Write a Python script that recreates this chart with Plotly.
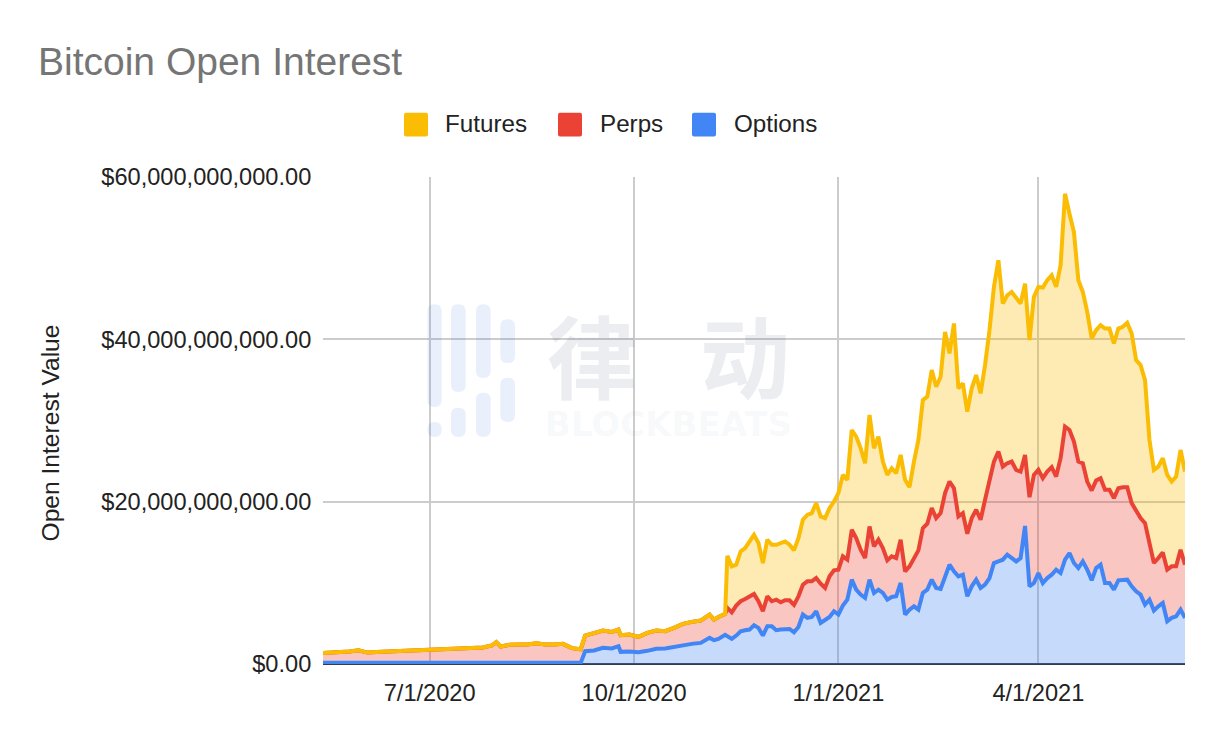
import pandas as pd
import numpy as np
import plotly.graph_objects as go

# stack tops, in billions of dollars
early_dates = ["2020-05-14", "2020-05-18", "2020-05-22", "2020-05-26", "2020-05-30", "2020-06-03", "2020-06-07",
               "2020-06-11", "2020-06-15", "2020-06-19", "2020-06-23", "2020-06-27", "2020-07-01", "2020-07-05",
               "2020-07-09", "2020-07-13", "2020-07-17", "2020-07-21", "2020-07-25", "2020-07-29", "2020-07-31",
               "2020-08-02", "2020-08-06", "2020-08-10", "2020-08-14", "2020-08-18", "2020-08-22", "2020-08-26",
               "2020-08-30", "2020-09-03", "2020-09-07", "2020-09-09", "2020-09-13", "2020-09-17", "2020-09-21",
               "2020-09-24", "2020-09-25", "2020-09-29", "2020-10-03", "2020-10-07", "2020-10-11", "2020-10-15",
               "2020-10-19", "2020-10-23", "2020-10-27", "2020-10-31", "2020-11-04", "2020-11-06", "2020-11-08",
               "2020-11-11"]
late_dates = [d.strftime("%Y-%m-%d") for d in pd.date_range("2020-11-12", periods=104, freq="2D")]
dates = early_dates + late_dates

futures_top = [1.37, 1.41, 1.41, 1.54, 1.70, 1.41, 1.49, 1.54, 1.58, 1.62, 1.74, 1.74, 1.74, 1.82, 1.82, 1.95, 1.99,
               2.07, 2.03, 2.28, 2.70, 2.15, 2.36, 2.40, 2.40, 2.56, 2.40, 2.40, 2.48, 1.95, 1.82, 3.50, 3.75, 4.12,
               3.96, 4.24, 3.55, 3.63, 3.34, 3.83, 4.12, 4.04, 4.45, 4.94, 5.19, 5.35, 6.09, 5.47, 5.80, 6.17,
               13.34, 12.03, 12.23, 13.87, 14.28, 15.10, 15.92, 14.90, 12.44, 15.31, 14.69, 14.69, 14.90, 15.10,
               14.69, 14.00, 15.51, 17.77, 18.38, 18.59, 19.82, 18.18, 17.97, 19.20, 20.02, 21.05,
               23.30, 22.69, 28.83, 28.01, 26.58, 24.73, 30.68, 26.58, 28.01, 24.94, 23.30, 24.12, 23.50, 25.76,
               22.69, 21.78, 24.94, 27.60, 32.52, 32.93, 36.21, 34.16, 35.39, 40.92, 38.26, 41.95, 33.96, 34.57,
               31.09, 33.96, 35.60, 33.34, 36.83, 41.13, 46.46, 49.74, 44.40, 45.43, 45.84, 45.20, 44.40, 46.87,
               39.90, 45.23, 46.46, 46.38, 47.28, 47.89, 46.46, 49.12, 57.93, 55.47, 53.22, 47.28, 45.84, 43.38,
               40.10, 41.13, 41.74, 41.33, 41.33, 39.49, 41.33, 41.54, 42.03, 40.72, 37.44, 36.83, 34.98, 27.60,
               23.92, 24.32, 25.35, 23.30, 22.48, 23.09, 26.37, 23.71]

perps_top = [1.37, 1.41, 1.41, 1.54, 1.70, 1.41, 1.49, 1.54, 1.58, 1.62, 1.74, 1.74, 1.74, 1.82, 1.82, 1.95, 1.99,
             2.07, 2.03, 2.28, 2.70, 2.15, 2.36, 2.40, 2.40, 2.56, 2.40, 2.40, 2.48, 1.95, 1.82, 3.50, 3.75, 4.12,
             3.96, 4.24, 3.55, 3.63, 3.34, 3.83, 4.12, 4.04, 4.45, 4.94, 5.19, 5.35, 6.09, 5.47, 5.80, 6.17,
             6.91, 6.37, 7.19, 7.73, 8.01, 8.34, 8.63, 7.73, 6.50, 8.34, 7.73, 7.93, 7.60, 7.85, 7.85, 7.28, 8.34,
             9.77, 10.18, 10.18, 10.59, 9.90, 9.37, 10.80, 11.54, 11.62,
             13.26, 12.85, 16.54, 15.51, 14.08, 13.05, 16.95, 14.49, 15.31, 14.28, 12.77, 13.26, 13.05, 15.31,
             11.41, 12.03, 12.93, 14.00, 16.74, 17.28, 19.20, 17.97, 18.59, 21.05, 22.48, 21.66, 18.18, 18.59,
             16.05, 17.97, 19.00, 17.77, 20.23, 22.69, 24.94, 26.17, 24.32, 24.73, 24.94, 23.90, 23.70, 25.76,
             20.55, 23.30, 23.92, 22.89, 23.71, 24.24, 23.09, 25.35, 29.24, 28.83, 27.40, 24.94, 24.73, 22.48,
             21.37, 22.60, 22.89, 21.46, 21.46, 20.43, 21.66, 21.78, 21.78, 19.82, 18.79, 17.97, 17.36, 15.10,
             12.44, 13.05, 13.75, 11.62, 12.03, 12.03, 14.08, 12.23]

options_top = [0.14, 0.14, 0.14, 0.14, 0.14, 0.14, 0.14, 0.14, 0.14, 0.14, 0.14, 0.14, 0.14, 0.14, 0.14, 0.14, 0.14,
               0.14, 0.14, 0.14, 0.14, 0.14, 0.14, 0.14, 0.14, 0.14, 0.14, 0.14, 0.14, 0.14, 0.14,
               1.58, 1.66, 1.99, 1.91, 2.19, 1.50, 1.54, 1.45, 1.62, 1.87, 1.91, 2.11, 2.40, 2.48, 2.60, 3.22, 2.93,
               3.09, 3.59,
               3.42, 3.09, 3.50, 4.04, 4.16, 4.24, 4.77, 4.45, 3.50, 4.65, 4.65, 4.16, 4.24, 4.32, 4.32, 3.91, 4.57,
               6.09, 5.68, 5.80, 6.50, 5.06, 5.47, 5.80, 6.50, 6.09,
               7.19, 7.93, 10.39, 9.16, 8.55, 8.14, 10.39, 8.75, 9.16, 8.75, 7.93, 8.26, 8.34, 9.98, 6.09, 6.70, 7.11,
               6.70, 8.75, 9.16, 10.39, 9.37, 9.24, 10.80, 12.23, 11.41, 10.80, 11.00, 8.34, 9.57, 10.39, 9.37, 9.77,
               10.59, 12.44, 12.64, 12.85, 13.46, 13.05, 12.64, 13.05, 17.00,
               9.57, 9.98, 11.21, 9.98, 10.59, 11.00, 11.62, 11.21, 12.85, 13.67, 12.44, 11.82, 12.64, 11.62, 10.31,
               11.82, 12.23, 9.98, 9.98, 9.16, 10.31, 10.39, 10.39, 9.57, 8.96, 8.55, 7.32, 7.93, 6.58, 7.11, 7.52,
               5.27, 5.68, 5.88, 6.70, 5.68]

# the page has an 8px body margin, so the figure starts at (8, 8) of the photo
OFF = 8
W, H = 1222 - 2 * OFF, 742 - 2 * OFF
L, R, T, B = 323, 1185, 176.5, 664.5
GREY = "#cccccc"
FONT = "Liberation Sans"


def px(x):
    return (x - L) / (R - L)


def py(y):
    return (B - y) / (B - T)


def rounded(x0, y0, x1, y1, r):
    # rounded box as an svg path in paper coordinates
    p = [("M", x0 + r, y0), ("L", x1 - r, y0), ("Q", x1, y0, x1, y0 + r), ("L", x1, y1 - r),
         ("Q", x1, y1, x1 - r, y1), ("L", x0 + r, y1), ("Q", x0, y1, x0, y1 - r), ("L", x0, y0 + r),
         ("Q", x0, y0, x0 + r, y0)]
    out = ""
    for seg in p:
        coords = seg[1:]
        pairs = [f"{px(coords[i]):.5f},{py(coords[i + 1]):.5f}" for i in range(0, len(coords), 2)]
        out += seg[0] + " ".join(pairs) + " "
    return out + "Z"


fig = go.Figure()

series = [("Options", options_top, "#4285f4", "rgba(66,133,244,0.3)", "tozeroy"),
          ("Perps", perps_top, "#ea4335", "rgba(234,67,53,0.3)", "tonexty"),
          ("Futures", futures_top, "#fbbc04", "rgba(251,188,4,0.3)", "tonexty")]
for name, vals, color, fillc, fill in series:
    fig.add_trace(go.Scatter(x=dates, y=np.array(vals) * 1e9, name=name, mode="lines", fill=fill, fillcolor=fillc,
                             line=dict(color=color, width=4), showlegend=False))

shapes = []
annotations = []

# legend drawn by hand, the chart has square swatches
for name, color, sx, tx in [("Futures", "#fbbc04", 404, 443), ("Perps", "#ea4335", 558, 598),
                            ("Options", "#4285f4", 692, 732)]:
    shapes.append(dict(type="path", xref="paper", yref="paper", path=rounded(sx, 112, sx + 24, 136, 2),
                       fillcolor=color, line=dict(width=0)))
    annotations.append(dict(text=name, xref="paper", yref="paper", x=px(tx), y=py(123), xanchor="left",
                            yanchor="middle", showarrow=False, font=dict(family=FONT, size=24.2, color="#222222")))

annotations.append(dict(text="Open Interest Value", xref="paper", yref="paper", x=px(50), y=py(433.5), textangle=-90,
                        xanchor="center", yanchor="middle", showarrow=False,
                        font=dict(family=FONT, size=24.6, color="#222222")))

# watermark
for x0, y0, x1, y1 in [(427.5, 304, 441.7, 407), (427.5, 422, 441.7, 437), (451, 304, 465.7, 392),
                       (451, 407.7, 465.7, 437), (476, 304, 490.7, 378), (476, 392.7, 490.7, 437),
                       (500.3, 319, 515, 363), (500.3, 377.7, 515, 422)]:
    shapes.append(dict(type="path", xref="paper", yref="paper", path=rounded(x0, y0, x1, y1, 7),
                       fillcolor="rgba(66,110,230,0.11)", line=dict(width=0), layer="above"))
annotations.append(dict(text="<b>律\u2002\u2009动</b>", xref="paper", yref="paper", x=px(668), y=py(353), xanchor="center",
                        yanchor="middle", showarrow=False,
                        font=dict(family="Noto Sans CJK SC", size=90, color="rgba(60,80,120,0.10)")))
annotations.append(dict(text="<b>BLOCKBEATS</b>", xref="paper", yref="paper", x=px(668), y=py(424), xanchor="center",
                        yanchor="middle", showarrow=False,
                        font=dict(family="DejaVu Sans", size=34, color="rgba(60,80,120,0.05)")))

fig.update_layout(
    width=W, height=H,
    margin=dict(l=L - OFF, r=W + OFF - R, t=T - OFF, b=H + OFF - B, pad=0),
    paper_bgcolor="white", plot_bgcolor="white",
    title=dict(text="Bitcoin Open Interest", x=(38 - OFF) / W, y=1 - (61 - OFF) / H, xanchor="left", yanchor="middle",
               font=dict(family=FONT, size=39, color="#757575")),
    font=dict(family=FONT, size=23.6, color="#222222"),
    shapes=shapes, annotations=annotations,
    xaxis=dict(type="date", range=["2020-05-14", "2021-06-06"],
               tickvals=["2020-07-01", "2020-10-01", "2021-01-01", "2021-04-01"], tickformat="%-m/%-d/%Y",
               showgrid=True, gridcolor=GREY, gridwidth=2, ticks="outside", ticklen=8, tickcolor="rgba(0,0,0,0)",
               zeroline=False, showline=False),
    yaxis=dict(range=[0, 60e9], tickvals=[0, 20e9, 40e9, 60e9], tickformat="$,.2f",
               showgrid=True, gridcolor=GREY, gridwidth=2, ticks="outside", ticklen=6, tickcolor="rgba(0,0,0,0)",
               zeroline=True, zerolinecolor="#333a4a", zerolinewidth=2, showline=False),
)

fig.write_html("out.html")
